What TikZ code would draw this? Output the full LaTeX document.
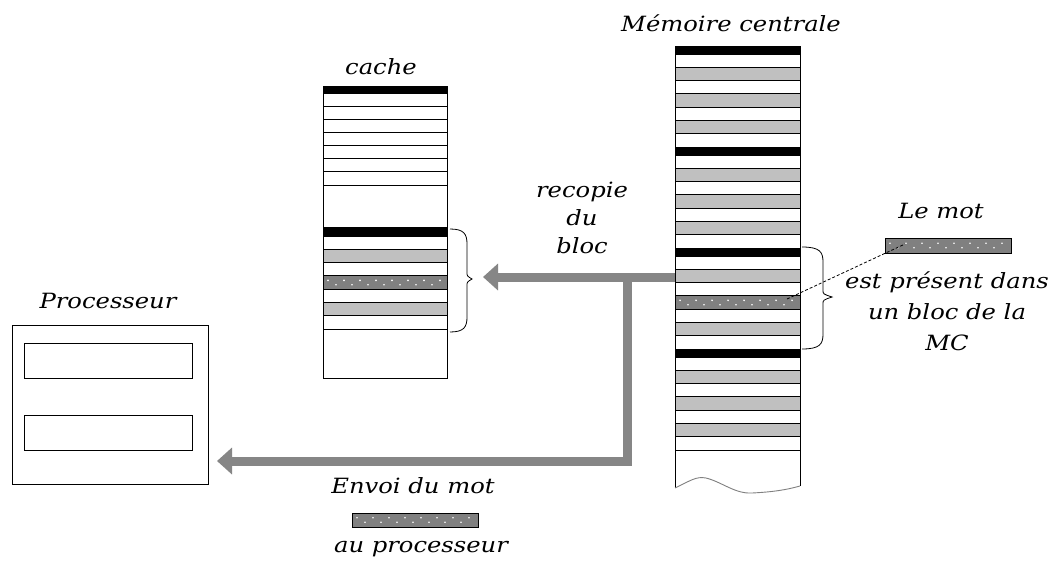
\documentclass[tikz,border=0pt]{standalone}
\usepackage{fontspec}
\setmainfont{DejaVu Serif}
\newfontfamily\lab[FakeStretch=1.155]{DejaVu Serif}
\usetikzlibrary{arrows.meta}
\definecolor{lgray}{HTML}{C0C0C0}
\definecolor{dgray}{HTML}{808080}
\definecolor{agray}{HTML}{868686}
\tikzset{
  lbl/.style={font=\lab\itshape\fontsize{21}{24}\selectfont, inner sep=0pt},
  roww/.style={draw=black, line width=0.9pt, fill=white},
  rowg/.style={draw=black, line width=0.9pt, fill=lgray},
  rowk/.style={draw=black, line width=0.9pt, fill=black},
  rowd/.style={draw=black, line width=0.9pt, fill=dgray},
  boxline/.style={draw=black, line width=0.9pt},
  bracel/.style={draw=black, line width=0.8pt},
  garrow/.style={draw=agray, line width=9pt, line join=miter, -{Triangle[length=15pt,width=26pt]}},
}
\newcommand\dotbar[4]{% x1 y1 x2 y2
  \filldraw[rowd] (#1,#2) rectangle (#3,#4);
  \foreach \i in {0,...,14} {
    \pgfmathsetmacro\dx{#1+5+\i*8}
    \pgfmathsetmacro\dy{(#2+#4)/2 + ifthenelse(mod(\i,2)==0,-2.2,2.2)}
    \fill[white] (\dx,\dy) circle (0.9pt);
  }
}
\begin{document}
\begin{tikzpicture}[x=1pt,y=-1pt]
\useasboundingbox (0,0) rectangle (1055,563);
\fill[white] (0,0) rectangle (1055,563);

% ---------- memoire centrale ----------
\foreach \k in {0,1,2,3} {
  \pgfmathsetmacro\b{46+101*\k}
  \pgfmathsetmacro\bb{\b+8}
  \filldraw[rowk] (675,\b) rectangle (800,\bb);
  \foreach \r in {0,...,6} {
    \pgfmathsetmacro\ya{\b+8+\r*13.29}
    \pgfmathsetmacro\yb{\ya+13.29}
    \ifodd\r
      \filldraw[rowg] (675,\ya) rectangle (800,\yb);
    \else
      \filldraw[roww] (675,\ya) rectangle (800,\yb);
    \fi
  }
}
\dotbar{675}{295.9}{800}{309.2}
\draw[boxline] (675,46) -- (675,488);
\draw[boxline] (800,46) -- (800,486);
\draw[draw=gray, line width=0.9pt] (675,488) .. controls (690,481) and (696,476) .. (706,478)
  .. controls (722,482) and (735,494) .. (752,493) .. controls (772,492) and (786,490) .. (800,486);
\coordinate (memL) at (675,277);
\coordinate (wordsrc) at (787,299);

% brace MC
\draw[bracel] (802,247) .. controls (820,247) and (823,252) .. (823,262) -- (823,290)
  .. controls (823,294) .. (832,297) .. controls (823,300) .. (823,304) -- (823,334)
  .. controls (823,344) and (820,349) .. (802,349);

% ---------- cache ----------
\filldraw[roww] (323,86) rectangle (447,378);
\filldraw[rowk] (323,86) rectangle (447,93);
\foreach \i in {1,...,7} {
  \draw[boxline] (323,{93+13.14*\i}) -- (447,{93+13.14*\i});
}
\filldraw[rowk] (323,227) rectangle (447,236);
\foreach \r in {0,...,6} {
  \pgfmathsetmacro\ya{236+\r*13.3}
  \pgfmathsetmacro\yb{\ya+13.3}
  \ifodd\r
    \filldraw[rowg] (323,\ya) rectangle (447,\yb);
  \else
    \filldraw[roww] (323,\ya) rectangle (447,\yb);
  \fi
}
\dotbar{323}{275.9}{447}{289.2}
\draw[boxline] (323,86) rectangle (447,378);
% brace cache
\draw[bracel] (450,229) .. controls (464,229) and (467,234) .. (467,244) -- (467,272)
  .. controls (467,276) .. (472,279) .. controls (467,282) .. (467,286) -- (467,317)
  .. controls (467,327) and (464,332) .. (450,332);
\coordinate (cacheTip) at (483,277);

% ---------- processeur ----------
\draw[boxline] (12,325) rectangle (208,484);
\draw[boxline] (24,343) rectangle (192,378);
\draw[boxline] (24,415) rectangle (192,450);
\coordinate (procR) at (217,461);
\coordinate (junction) at (627,277);

% ---------- arrows ----------
\draw[garrow] (memL) -- (cacheTip);
\draw[garrow] (junction) |- (procR);

% ---------- word bars ----------
\dotbar{885}{238}{1011}{253}
\coordinate (wordbar) at (905,244);
\draw[black, line width=0.8pt, dash pattern=on 3pt off 2pt] (wordsrc) -- (wordbar);
\dotbar{352}{513}{478}{527}

% ---------- labels ----------
\node[lbl] (lcache) at (381,67) {cache};
\node[lbl] (lmem) at (731,23) {Mémoire centrale};
\node[lbl] (lproc) at (108,301) {Processeur};
\node[lbl, align=center, font=\lab\itshape\fontsize{21}{28}\selectfont] (lrecop) at (582,218) {recopie\\du\\bloc};
\node[lbl] (lmot) at (941,211) {Le mot};
\node[lbl, align=center, font=\lab\itshape\fontsize{21}{31}\selectfont] (lpres) at (947,311) {est présent dans\\un bloc de la\\MC};
\node[lbl] (lenv) at (413,486) {Envoi du mot};
\node[lbl] (lau) at (421,549) {au processeur};
\end{tikzpicture}
\end{document}
